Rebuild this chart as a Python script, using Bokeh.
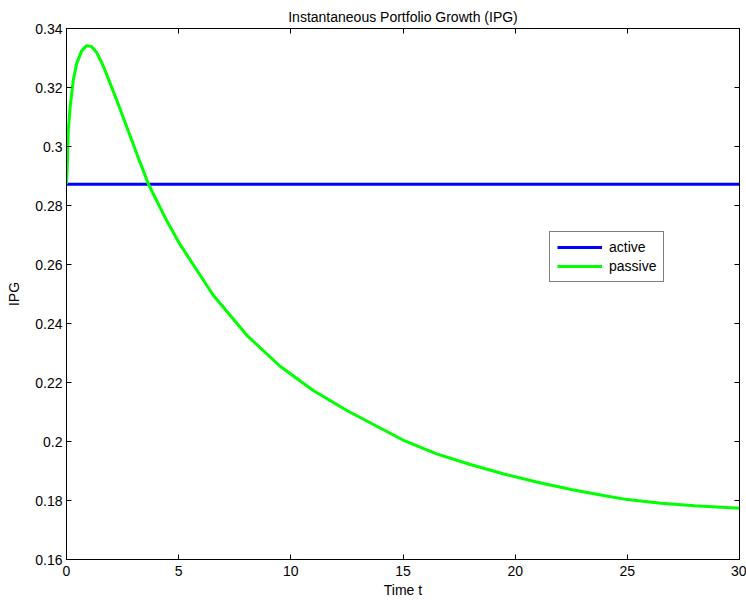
import numpy as np
from bokeh.plotting import figure
from bokeh.models import LinearAxis, Range1d, Legend, LegendItem, FixedTicker
from bokeh.embed import file_html
from bokeh.resources import INLINE

# ---- data ----
t_active = [0, 30]
ipg_active = [0.2872, 0.2872]

t_passive = [0, 0.04, 0.08, 0.16, 0.30, 0.45, 0.68, 0.90, 1.12, 1.35, 1.64, 1.94,
             2.30, 2.68, 3.16, 3.65, 4.47, 5.06, 5.5, 6.55, 8.04, 9.52, 11.0,
             12.5, 14.0, 15.0, 16.5, 18.0, 19.5, 21.0, 22.5, 24.0, 25.0, 26.5,
             28.0, 30.0]
ipg_passive = [0.2872, 0.2941, 0.3054, 0.3133, 0.3224, 0.3280, 0.3325, 0.3342,
               0.3339, 0.3318, 0.3273, 0.3215, 0.3145, 0.3068, 0.2970, 0.2873,
               0.2748, 0.2668, 0.2617, 0.2495, 0.2360, 0.2255, 0.2173, 0.2105,
               0.2045, 0.2005, 0.1958, 0.1922, 0.1890, 0.1862, 0.1837, 0.1816,
               0.1803, 0.1791, 0.1782, 0.1774]

x_ticks = [0, 5, 10, 15, 20, 25, 30]
x_tick_labels = ["0", "5", "10", "15", "20", "25", "30"]
y_ticks = [0.16, 0.18, 0.20, 0.22, 0.24, 0.26, 0.28, 0.30, 0.32, 0.34]
y_tick_labels = ["0.16", "0.18", "0.2", "0.22", "0.24", "0.26", "0.28", "0.3", "0.32", "0.34"]

FONT = "Liberation Sans"
FS = "14px"

p = figure(width=746, height=602, output_backend="svg", toolbar_location=None,
           x_range=Range1d(0, 30), y_range=Range1d(0.16, 0.34),
           min_border_left=66, min_border_right=7, min_border_top=28, min_border_bottom=43,
           title="Instantaneous Portfolio Growth (IPG)")
p.title.align = "center"
p.title.text_font = FONT
p.title.text_font_size = FS
p.title.text_font_style = "normal"
p.title.text_color = "black"
p.title.standoff = 8
p.title.offset = 0

p.xgrid.visible = False
p.ygrid.visible = False
p.outline_line_color = "black"
p.outline_line_width = 1
p.outline_line_alpha = 1
p.background_fill_color = "white"
p.border_fill_color = "white"

def style_axis(ax, ticks, labels, show_labels=True):
    ax.ticker = FixedTicker(ticks=ticks)
    ax.major_tick_in = 5
    ax.major_tick_out = 0
    ax.minor_tick_in = 0
    ax.minor_tick_out = 0
    ax.axis_line_color = "black"
    ax.major_tick_line_color = "black"
    ax.major_label_text_font = FONT
    ax.major_label_text_color = "black"
    if show_labels:
        ax.major_label_overrides = {t: l for t, l in zip(ticks, labels)}
        ax.major_label_text_font_size = FS
    else:
        ax.major_label_overrides = {t: "" for t in ticks}
        ax.major_label_text_font_size = "1px"
        ax.major_label_standoff = 0

style_axis(p.xaxis[0], x_ticks, x_tick_labels)
style_axis(p.yaxis[0], y_ticks, y_tick_labels)
p.xaxis[0].major_label_standoff = 6
p.yaxis[0].major_label_standoff = 4
p.xaxis[0].axis_label = "Time t"
p.yaxis[0].axis_label = "IPG"
for ax in (p.xaxis[0], p.yaxis[0]):
    ax.axis_label_text_font = FONT
    ax.axis_label_text_font_size = FS
    ax.axis_label_text_font_style = "normal"
    ax.axis_label_text_color = "black"
p.xaxis[0].axis_label_standoff = 3
p.yaxis[0].axis_label_standoff = 10

top_ax = LinearAxis()
style_axis(top_ax, x_ticks, x_tick_labels, show_labels=False)
p.add_layout(top_ax, "above")
right_ax = LinearAxis()
style_axis(right_ax, y_ticks, y_tick_labels, show_labels=False)
p.add_layout(right_ax, "right")

r_act = p.line(t_active, ipg_active, line_color="#0000ff", line_width=3)
r_pas = p.line(t_passive, ipg_passive, line_color="#00ff00", line_width=3)

legend = Legend(items=[LegendItem(label="active", renderers=[r_act]),
                       LegendItem(label="passive", renderers=[r_pas])],
                location=(483, 277))
legend.label_text_font = FONT
legend.label_text_font_size = FS
legend.label_text_color = "black"
legend.glyph_width = 45
legend.glyph_height = 16
legend.label_height = 16
legend.label_standoff = 7
legend.spacing = 3
legend.padding = 7
legend.margin = 0
legend.border_line_color = "black"
legend.border_line_width = 1
legend.background_fill_color = "white"
legend.background_fill_alpha = 1
p.add_layout(legend, "center")

open("out.html", "w").write(file_html(p, INLINE))
